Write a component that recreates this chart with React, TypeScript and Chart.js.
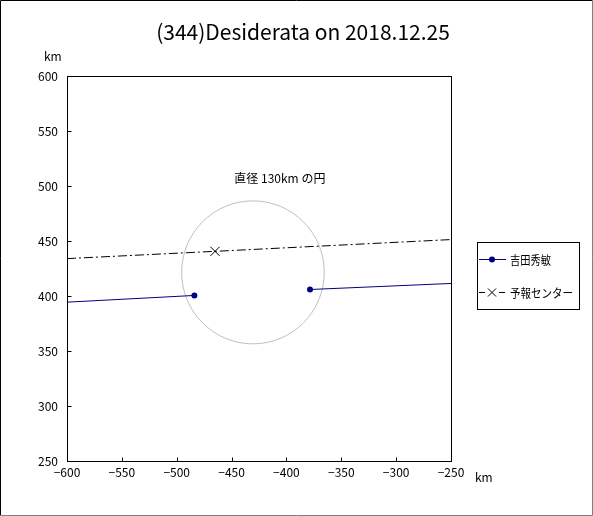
import React, { useEffect, useRef } from "react";
import { Chart, registerables } from "chart.js";

Chart.register(...registerables);

const TITLE = "(344)Desiderata on 2018.12.25";
const AXIS_UNIT = "km";
const X_MIN = -600;
const X_MAX = -250;
const Y_MIN = 250;
const Y_MAX = 600;
const TICK_STEP = 50;

const observerName = "吉田秀敏";
const observerX = [-600, -483.9, -378.5, -250];
const observerY = [394.4, 400.5, 405.9, 411.4];

const forecastName = "予報センター";
const forecastX = [-600, -465.1, -250];
const forecastY = [434.0, 440.6, 451.3];

const circleCenterX = -430.5;
const circleCenterY = 421.5;
const circleDiameter = 130;
const circleLabel = "直径 130km の円";
const circleLabelX = -406;
const circleLabelY = 507;

const FONT = '"Noto Sans CJK JP", "DejaVu Sans", sans-serif';
const NAVY = "#000080";

const fmt = (v: number) => (v < 0 ? "\u2212" + Math.abs(v) : String(v));

const decorPlugin = {
  id: "decor",
  beforeDatasetsDraw(chart: any) {
    const { ctx, scales } = chart;
    const xs = scales.x;
    const ys = scales.y;
    ctx.save();
    const cx = xs.getPixelForValue(circleCenterX);
    const cy = ys.getPixelForValue(circleCenterY);
    const rx = Math.abs(xs.getPixelForValue(circleCenterX + circleDiameter / 2) - cx);
    const ry = Math.abs(ys.getPixelForValue(circleCenterY + circleDiameter / 2) - cy);
    ctx.strokeStyle = "#c0c0c0";
    ctx.lineWidth = 1;
    ctx.beginPath();
    ctx.ellipse(cx, cy, rx, ry, 0, 0, Math.PI * 2);
    ctx.stroke();
    ctx.fillStyle = "#000";
    ctx.font = "12px " + FONT;
    ctx.textAlign = "center";
    ctx.textBaseline = "middle";
    ctx.fillText(circleLabel, xs.getPixelForValue(circleLabelX), ys.getPixelForValue(circleLabelY));
    ctx.restore();
  },
  afterDraw(chart: any) {
    const { ctx, chartArea: a, scales, width, height } = chart;
    const xs = scales.x;
    const ys = scales.y;
    ctx.save();
    ctx.strokeStyle = "#000";
    ctx.lineWidth = 1;
    const L = Math.round(a.left) + 0.5;
    const R = Math.round(a.right) + 0.5;
    const T = Math.round(a.top) + 0.5;
    const B = Math.round(a.bottom) + 0.5;
    ctx.strokeRect(L, T, R - L, B - T);
    ctx.beginPath();
    for (let v = X_MIN + TICK_STEP; v < X_MAX; v += TICK_STEP) {
      const px = Math.round(xs.getPixelForValue(v)) + 0.5;
      ctx.moveTo(px, B);
      ctx.lineTo(px, B - 4);
    }
    for (let v = Y_MIN + TICK_STEP; v < Y_MAX; v += TICK_STEP) {
      const py = Math.round(ys.getPixelForValue(v)) + 0.5;
      ctx.moveTo(L, py);
      ctx.lineTo(L + 4, py);
    }
    ctx.stroke();
    ctx.fillStyle = "#000";
    ctx.font = "21px " + FONT;
    ctx.textAlign = "center";
    ctx.textBaseline = "middle";
    ctx.fillText(TITLE, 303, 32);
    ctx.font = "12px " + FONT;
    ctx.textAlign = "left";
    ctx.fillText(AXIS_UNIT, 44, 56);
    ctx.fillText(AXIS_UNIT, 475, 477);
    // legend
    ctx.strokeStyle = "#000";
    ctx.strokeRect(477.5, 242.5, 102, 67);
    ctx.strokeStyle = NAVY;
    ctx.beginPath();
    ctx.moveTo(479, 259.5);
    ctx.lineTo(506, 259.5);
    ctx.stroke();
    ctx.fillStyle = NAVY;
    ctx.beginPath();
    ctx.arc(492, 259.5, 3, 0, Math.PI * 2);
    ctx.fill();
    ctx.fillStyle = "#000";
    ctx.fillText(observerName, 510, 260, 41);
    ctx.strokeStyle = "#000";
    ctx.beginPath();
    ctx.moveTo(479, 292.5);
    ctx.lineTo(485, 292.5);
    ctx.moveTo(499, 292.5);
    ctx.lineTo(505, 292.5);
    ctx.moveTo(488, 288.5);
    ctx.lineTo(496, 296.5);
    ctx.moveTo(496, 288.5);
    ctx.lineTo(488, 296.5);
    ctx.stroke();
    ctx.fillText(forecastName, 510, 293, 63);
    // outer border
    ctx.strokeStyle = "#000";
    ctx.beginPath();
    ctx.moveTo(0.5, height);
    ctx.lineTo(0.5, 0.5);
    ctx.lineTo(width, 0.5);
    ctx.stroke();
    ctx.strokeStyle = "#808080";
    ctx.beginPath();
    ctx.moveTo(width - 0.5, 0);
    ctx.lineTo(width - 0.5, height - 0.5);
    ctx.lineTo(0, height - 0.5);
    ctx.stroke();
    ctx.restore();
  },
  beforeDraw(chart: any) {
    const { ctx, width, height } = chart;
    ctx.save();
    ctx.fillStyle = "#fff";
    ctx.fillRect(0, 0, width, height);
    ctx.restore();
  },
};

export default function App() {
  const ref = useRef<HTMLCanvasElement | null>(null);
  useEffect(() => {
    if (!ref.current) return;
    const obsData: any[] = [];
    const obsRadius: number[] = [];
    observerX.forEach((x, i) => {
      obsData.push({ x, y: observerY[i] });
      obsRadius.push(i === 0 || i === observerX.length - 1 ? 0 : 3);
      if (i === 1) {
        obsData.push({ x: (observerX[1] + observerX[2]) / 2, y: null });
        obsRadius.push(0);
      }
    });
    const fcData = forecastX.map((x, i) => ({ x, y: forecastY[i] }));
    const fcRadius = forecastX.map((_, i) => (i === 0 || i === forecastX.length - 1 ? 0 : 6.5));

    const chart = new Chart(ref.current, {
      type: "scatter",
      data: {
        datasets: [
          {
            label: observerName,
            data: obsData,
            showLine: true,
            spanGaps: false,
            borderColor: NAVY,
            backgroundColor: NAVY,
            borderWidth: 1,
            pointRadius: obsRadius,
            pointBorderWidth: 0,
            pointStyle: "circle",
          },
          {
            label: forecastName,
            data: fcData,
            showLine: true,
            borderColor: "#000",
            backgroundColor: "#000",
            borderWidth: 1,
            borderDash: [9, 3, 2, 3],
            pointRadius: fcRadius,
            pointStyle: "crossRot",
            pointBorderWidth: 1,
            pointBorderColor: "#000",
          },
        ],
      } as any,
      options: {
        animation: false,
        responsive: false,
        maintainAspectRatio: false,
        layout: { padding: { left: 0, top: 76, right: 142, bottom: 0 } },
        plugins: { legend: { display: false }, tooltip: { enabled: false }, title: { display: false } },
        scales: {
          x: {
            type: "linear",
            min: X_MIN,
            max: X_MAX,
            grid: { display: false, drawTicks: false },
            border: { display: false },
            ticks: {
              stepSize: TICK_STEP,
              padding: 4,
              color: "#000",
              font: { family: FONT, size: 12 },
              callback: (v: any) => fmt(Number(v)),
              maxRotation: 0,
              autoSkip: false,
            },
            afterFit: (s: any) => {
              s.height = 55;
            },
          },
          y: {
            type: "linear",
            min: Y_MIN,
            max: Y_MAX,
            grid: { display: false, drawTicks: false },
            border: { display: false },
            ticks: {
              stepSize: TICK_STEP,
              padding: 9,
              color: "#000",
              font: { family: FONT, size: 12 },
              callback: (v: any) => fmt(Number(v)),
              autoSkip: false,
            },
            afterFit: (s: any) => {
              s.width = 67;
            },
          },
        },
      },
      plugins: [decorPlugin],
    } as any);
    return () => chart.destroy();
  }, []);
  return (
    <div style={{ position: "fixed", left: 0, top: 0, width: 593, height: 516 }}>
      <canvas ref={ref} width={593} height={516} style={{ display: "block", width: 593, height: 516 }} />
    </div>
  );
}
